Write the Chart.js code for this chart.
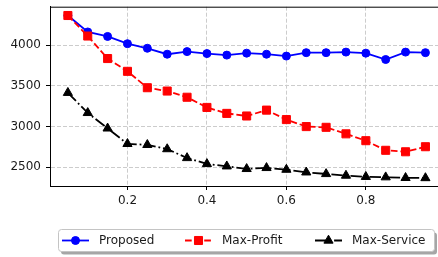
<!DOCTYPE html>
<html>
<head>
<meta charset="utf-8">
<script src="https://cdn.jsdelivr.net/npm/chart.js@4/dist/chart.umd.min.js"></script>
<style>
html, body { margin: 0; padding: 0; overflow: hidden; background: #fff; }
#wrap { width: 438px; height: 257px; overflow: hidden; }
</style>
</head>
<body>
<div id="wrap"><canvas id="chart" width="450" height="257" style="width:450px;height:257px"></canvas></div>
<script>
// data
const alphas = [0.05, 0.10, 0.15, 0.20, 0.25, 0.30, 0.35, 0.40, 0.45, 0.50,
                0.55, 0.60, 0.65, 0.70, 0.75, 0.80, 0.85, 0.90, 0.95];
const proposed = [4362, 4160, 4105, 4016, 3960, 3887, 3919, 3895, 3876, 3900,
                  3887, 3864, 3906, 3906, 3913, 3900, 3822, 3913, 3906];
const maxProfit = [4362, 4110, 3834, 3677, 3476, 3435, 3359, 3234, 3161, 3129,
                   3201, 3085, 2999, 2990, 2910, 2826, 2708, 2690, 2752];
const maxService = [3414, 3167, 2977, 2787, 2775, 2723, 2614, 2541, 2512, 2480,
                    2492, 2471, 2438, 2418, 2398, 2383, 2378, 2370, 2368];
const xTicks = [0.2, 0.4, 0.6, 0.8];
const yTicks = [2500, 3000, 3500, 4000];
const seriesNames = ['Proposed', 'Max-Profit', 'Max-Service'];

Chart.defaults.font.family = "'DejaVu Sans', sans-serif";
Chart.defaults.font.size = 12;
Chart.defaults.color = '#1a1a1a';

function pts(values) {
    return values.map((v, i) => ({ x: alphas[i], y: v }));
}

function roundRect(ctx, x, y, w, h, r) {
    ctx.beginPath();
    ctx.moveTo(x + r, y);
    ctx.lineTo(x + w - r, y);
    ctx.arcTo(x + w, y, x + w, y + r, r);
    ctx.lineTo(x + w, y + h - r);
    ctx.arcTo(x + w, y + h, x + w - r, y + h, r);
    ctx.lineTo(x + r, y + h);
    ctx.arcTo(x, y + h, x, y + h - r, r);
    ctx.lineTo(x, y + r);
    ctx.arcTo(x, y, x + r, y, r);
    ctx.closePath();
}

function marker(ctx, style, x, y, r, color) {
    ctx.fillStyle = color;
    ctx.strokeStyle = color;
    ctx.lineWidth = 1;
    ctx.setLineDash([]);
    ctx.beginPath();
    if (style === 'circle') {
        ctx.arc(x, y, r, 0, Math.PI * 2);
    } else if (style === 'rect') {
        const s = r * Math.SQRT1_2;
        ctx.rect(x - s, y - s, 2 * s, 2 * s);
    } else {
        ctx.moveTo(x, y - r);
        ctx.lineTo(x + r * 0.866, y + r / 2);
        ctx.lineTo(x - r * 0.866, y + r / 2);
        ctx.closePath();
    }
    ctx.fill();
    ctx.stroke();
}

// top spine + boxed legend with shadow below the axes
const framePlugin = {
    id: 'frame',
    afterDraw(chart) {
        const ctx = chart.ctx;
        const a = chart.chartArea;
        ctx.save();
        ctx.strokeStyle = '#000';
        ctx.lineWidth = 1;
        ctx.beginPath();
        ctx.moveTo(a.left, a.top + 0.5);
        ctx.lineTo(a.right, a.top + 0.5);
        ctx.stroke();

        roundRect(ctx, 61, 232.5, 376, 22, 3);
        ctx.fillStyle = 'rgba(0,0,0,0.35)';
        ctx.fill();
        roundRect(ctx, 58.5, 229.5, 376, 22, 3);
        ctx.fillStyle = '#fff';
        ctx.fill();
        ctx.strokeStyle = '#c4c4c4';
        ctx.stroke();

        const starts = [62, 185, 315];
        chart.data.datasets.forEach((ds, i) => {
            const x0 = starts[i], y = 240.5;
            ctx.strokeStyle = ds.borderColor;
            ctx.lineWidth = ds.borderWidth;
            ctx.setLineDash(ds.borderDash || []);
            ctx.beginPath();
            ctx.moveTo(x0, y);
            ctx.lineTo(x0 + 27, y);
            ctx.stroke();
            marker(ctx, ds.pointStyle, x0 + 13.5, y, ds.pointRadius, ds.borderColor);
            ctx.fillStyle = '#1a1a1a';
            ctx.font = "12px 'DejaVu Sans'";
            ctx.textBaseline = 'middle';
            ctx.textAlign = 'left';
            ctx.fillText(ds.label, x0 + 37, y);
        });
        ctx.restore();
    }
};

new Chart(document.getElementById('chart'), {
    type: 'line',
    data: {
        datasets: [
            {
                label: seriesNames[0],
                data: pts(proposed),
                borderColor: '#0000ff',
                backgroundColor: '#0000ff',
                borderWidth: 1.8,
                pointStyle: 'circle',
                pointRadius: 4,
                pointBorderWidth: 1,
                order: 2
            },
            {
                label: seriesNames[1],
                data: pts(maxProfit),
                borderColor: '#ff0000',
                backgroundColor: '#ff0000',
                borderWidth: 1.8,
                borderDash: [6.7, 2.9],
                pointStyle: 'rect',
                pointRadius: 5.7,
                pointBorderWidth: 1,
                order: 1
            },
            {
                label: seriesNames[2],
                data: pts(maxService),
                borderColor: '#000000',
                backgroundColor: '#000000',
                borderWidth: 1.8,
                borderDash: [11.5, 2.9, 1.8, 2.9],
                pointStyle: 'triangle',
                pointRadius: 5.3,
                pointBorderWidth: 1,
                order: 0
            }
        ]
    },
    options: {
        responsive: false,
        animation: false,
        layout: { padding: { left: 0, top: 5, right: 6, bottom: 0 } },
        plugins: {
            legend: { display: false },
            tooltip: { enabled: false }
        },
        elements: { line: { tension: 0 } },
        scales: {
            x: {
                type: 'linear',
                min: 0.005,
                max: 0.995,
                afterBuildTicks: s => { s.ticks = xTicks.map(v => ({ value: v })); },
                afterFit: s => { s.height = 71; s.paddingLeft = 0; s.paddingRight = 0; },
                ticks: { padding: 4, callback: v => v.toFixed(1) },
                grid: { color: '#cccccc', lineWidth: 1, tickLength: 4, tickColor: '#000', tickWidth: 1, tickBorderDash: [] },
                border: { color: '#000', width: 1, dash: [4, 2] }
            },
            y: {
                min: 2270,
                max: 4470,
                afterBuildTicks: s => { s.ticks = yTicks.map(v => ({ value: v })); },
                afterFit: s => { s.width = 50; s.paddingTop = 0; s.paddingBottom = 0; },
                ticks: { padding: 5, callback: v => String(v) },
                grid: { color: '#cccccc', lineWidth: 1, tickLength: 4, tickColor: '#000', tickWidth: 1, tickBorderDash: [] },
                border: { color: '#000', width: 1, dash: [4, 2] }
            }
        }
    },
    plugins: [framePlugin]
});
</script>
</body>
</html>
